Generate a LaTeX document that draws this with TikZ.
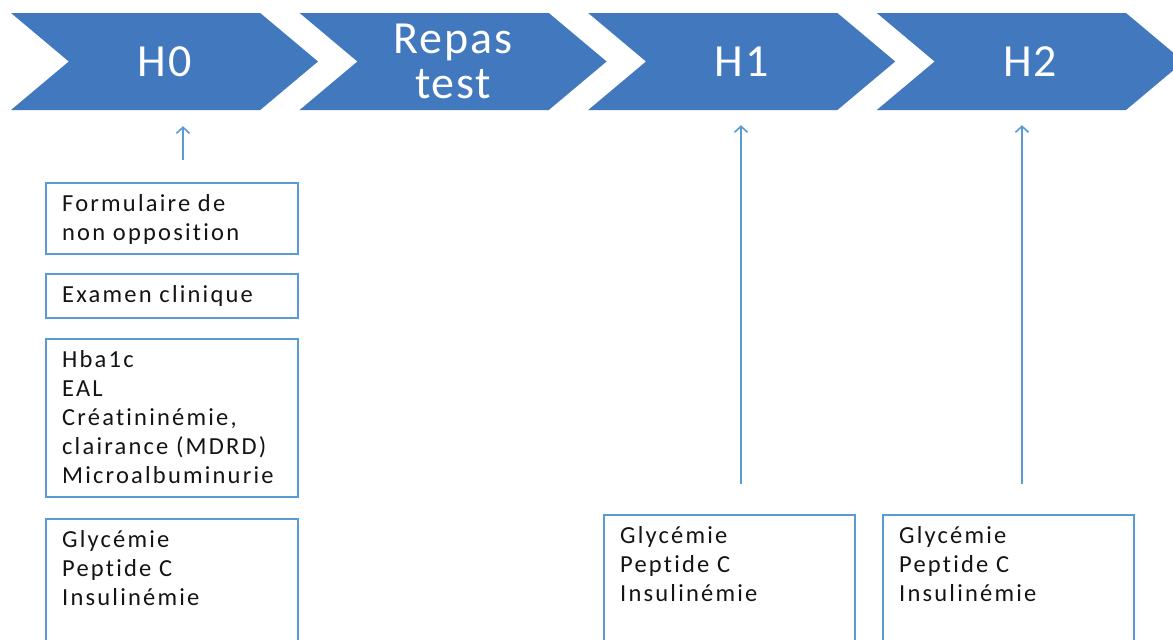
\documentclass[tikz,border=0pt]{standalone}
\usepackage{fontspec}
\setmainfont{Carlito}
\newfontfamily\headfont[LetterSpace=4]{Carlito}
\newfontfamily\boxfont[LetterSpace=9,Ligatures=NoCommon]{Carlito}
\usetikzlibrary{shapes.symbols,arrows.meta}
\definecolor{chevblue}{HTML}{4178BE}
\definecolor{boxblue}{HTML}{5B9BD5}
\definecolor{txtgray}{HTML}{141414}
\tikzset{
	chevron/.style={signal, signal from=west, signal to=east, signal pointer angle=80,
		fill=chevblue, minimum width=307pt, minimum height=97pt, inner sep=0pt,
		text=white, align=center, font=\headfont\fontsize{46}{45}\selectfont},
	frame/.style={draw=boxblue, line width=1.8pt, anchor=north west, inner sep=0pt},
	boxtext/.style={anchor=north west, inner sep=0pt, align=left, text=txtgray,
		font=\boxfont\fontsize{24.5}{29}\selectfont},
	uparrow/.style={draw=boxblue, line width=1.6pt, -{Straight Barb[length=6pt,width=13pt]}},
}
\begin{document}
\begin{tikzpicture}[x=1pt,y=-1pt]
	\useasboundingbox (0,0) rectangle (1173,640);
	\clip (0,0) rectangle (1173,640);
	
	% time line
	\foreach \name/\lbl [count=\i from 0] in {h0/H0, rt/{Repas\\test}, h1/H1, h2/H2}
		\node[chevron] (\name) at (164.5+288.6*\i,61.5) {\lbl};
	
	% boxes
	\node[frame, minimum width=252pt, minimum height=71pt] (b1) at (45,182) {};
	\node[frame, minimum width=252pt, minimum height=44pt] (b2) at (45,273) {};
	\node[frame, minimum width=252pt, minimum height=158pt] (b3) at (45,338) {};
	\node[frame, minimum width=252pt, minimum height=136pt] (b4) at (45,518) {};
	\node[frame, minimum width=251pt, minimum height=140pt] (g1) at (603,514) {};
	\node[frame, minimum width=251pt, minimum height=140pt] (g2) at (882,514) {};
	
	\node[boxtext] (t1) at ([xshift=17pt,yshift=-12pt]b1.north west) {Formulaire de\\non opposition};
	\node[boxtext] (t2) at ([xshift=17pt,yshift=-12pt]b2.north west) {Examen clinique};
	\node[boxtext] (t3) at ([xshift=17pt,yshift=-12pt]b3.north west)
		{Hba1c\\EAL\\Créatininémie,\\clairance (MDRD)\\Microalbuminurie};
	\node[boxtext] (t4) at ([xshift=17pt,yshift=-12pt]b4.north west) {Glycémie\\Peptide C\\Insulinémie};
	\node[boxtext] (t5) at ([xshift=17pt,yshift=-12pt]g1.north west) {Glycémie\\Peptide C\\Insulinémie};
	\node[boxtext] (t6) at ([xshift=17pt,yshift=-12pt]g2.north west) {Glycémie\\Peptide C\\Insulinémie};
	
	% arrows
	\coordinate (a0) at (183,160);
	\coordinate (a1) at (741,484);
	\coordinate (a2) at (1022,484);
	\draw[uparrow, shorten >=16pt] (a0) -- (a0 |- h0.south);
	\draw[uparrow, shorten >=15pt] (a1) -- (a1 |- h1.south);
	\draw[uparrow, shorten >=15pt] (a2) -- (a2 |- h2.south);
\end{tikzpicture}
\end{document}
